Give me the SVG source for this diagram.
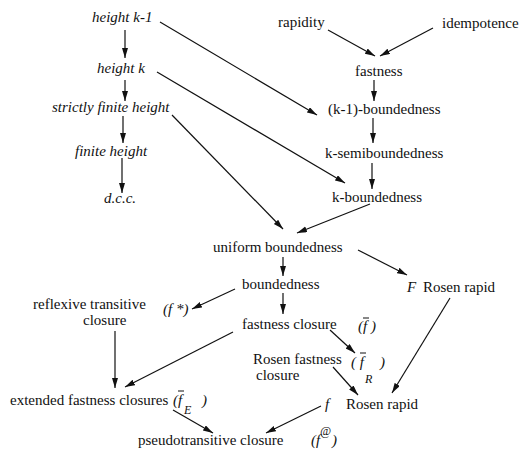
<svg xmlns="http://www.w3.org/2000/svg" width="521" height="450" viewBox="0 0 521 450">
<defs>
<marker id="ah" markerUnits="userSpaceOnUse" markerWidth="11" markerHeight="7" refX="10" refY="3" orient="auto">
<path d="M0,0 L10,3 L0,6 z" fill="#111"/>
</marker>
<style>
text{font-family:"Liberation Serif","Times New Roman",serif;font-size:15px;fill:#111}
.i{font-style:italic}
.s{font-size:12px}
.c line{stroke:#111;stroke-width:1.2;marker-end:url(#ah)}
.bar{stroke:#111;stroke-width:1}
</style>
</defs>
<rect width="521" height="450" fill="#fff"/>
<g id="n_heightk1"><text class="i" x="92" y="22">height k-1</text></g>
<g id="n_heightk"><text class="i" x="97" y="73">height k</text></g>
<g id="n_strictly"><text class="i" x="52" y="112">strictly finite height</text></g>
<g id="n_finite"><text class="i" x="75" y="156">finite height</text></g>
<g id="n_dcc"><text class="i" x="104" y="203">d.c.c.</text></g>
<g id="n_rapidity"><text x="278" y="27">rapidity</text></g>
<g id="n_idempotence"><text x="442" y="28">idempotence</text></g>
<g id="n_fastness"><text x="355" y="76">fastness</text></g>
<g id="n_k1bound"><text x="328" y="114">(k-1)-boundedness</text></g>
<g id="n_ksemi"><text x="325" y="158">k-semiboundedness</text></g>
<g id="n_kbound"><text x="332" y="202">k-boundedness</text></g>
<g id="n_uniform"><text x="213" y="252">uniform boundedness</text></g>
<g id="n_bounded"><text x="242" y="289">boundedness</text></g>
<g id="n_frosen"><text class="i" x="407" y="292">F</text><text x="423" y="292">Rosen rapid</text></g>
<g id="n_refl"><text x="33" y="309">reflexive transitive</text><text x="83" y="325">closure</text><text class="i" x="163" y="314">(f *)</text></g>
<g id="n_fclos"><text x="242" y="329">fastness closure</text><text class="i" x="358" y="331">(f )</text><line class="bar" x1="363" y1="318" x2="369" y2="318"/></g>
<g id="n_rfclos"><text x="253" y="364">Rosen fastness</text><text x="256" y="380">closure</text><text class="i" x="351" y="367">( f</text><line class="bar" x1="360" y1="353" x2="366" y2="353"/><text class="i s" x="365" y="383">R</text><text class="i" x="380" y="367">)</text></g>
<g id="n_rosen"><text class="i" x="325" y="409">f</text><text x="346" y="409">Rosen rapid</text></g>
<g id="n_ext"><text x="10" y="405">extended fastness closures</text><text class="i" x="173" y="405">(f</text><line class="bar" x1="178" y1="391" x2="184" y2="391"/><text class="i s" x="184" y="414">E</text><text class="i" x="202" y="405">)</text></g>
<g id="n_pseudo"><text x="138" y="445">pseudotransitive closure</text><text class="i" x="311" y="445">(f</text><text class="i s" x="320" y="435">@</text><text class="i" x="332" y="445">)</text></g>
<g id="connectors" class="c">
<line x1="125" y1="30" x2="125" y2="58"/>
<line x1="125" y1="80" x2="125" y2="101"/>
<line x1="123" y1="116" x2="123" y2="143"/>
<line x1="122" y1="158" x2="122" y2="193"/>
<line x1="328" y1="30" x2="375" y2="56"/>
<line x1="433" y1="28" x2="380" y2="56"/>
<line x1="374" y1="80" x2="374" y2="101"/>
<line x1="373" y1="118" x2="373" y2="143"/>
<line x1="372" y1="163" x2="372" y2="189"/>
<line x1="160" y1="22" x2="317" y2="115"/>
<line x1="157" y1="72" x2="345" y2="183"/>
<line x1="172" y1="115" x2="283" y2="229"/>
<line x1="370" y1="204" x2="297" y2="233"/>
<line x1="283" y1="257" x2="283" y2="276"/>
<line x1="235" y1="289" x2="192" y2="309"/>
<line x1="283" y1="293" x2="283" y2="314"/>
<line x1="358" y1="250" x2="407" y2="275"/>
<line x1="115" y1="331" x2="115" y2="388"/>
<line x1="233" y1="332" x2="125" y2="387"/>
<line x1="330" y1="330" x2="355" y2="353"/>
<line x1="450" y1="298" x2="392" y2="393"/>
<line x1="333" y1="367" x2="358" y2="395"/>
<line x1="321" y1="406" x2="266" y2="433"/>
<line x1="173" y1="410" x2="213" y2="433"/>
</g>
</svg>
